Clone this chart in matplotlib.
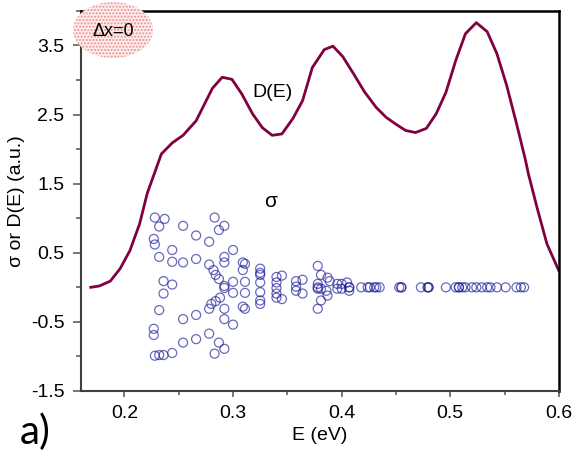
import matplotlib
matplotlib.use("Agg")
import matplotlib.pyplot as plt
from matplotlib.patches import Ellipse
from matplotlib.ticker import MultipleLocator

plt.rcParams['font.family'] = ['Liberation Sans', 'DejaVu Sans']

# Density of states D(E)
energy_dos = [0.169, 0.177, 0.187, 0.196, 0.205, 0.214, 0.221, 0.234, 0.244, 0.254,
              0.266, 0.281, 0.290, 0.299, 0.308, 0.318, 0.327, 0.336, 0.345, 0.355,
              0.364, 0.373, 0.384, 0.392, 0.401, 0.411, 0.421, 0.432, 0.441, 0.450,
              0.459, 0.468, 0.478, 0.487, 0.496, 0.505, 0.514, 0.524, 0.534, 0.543,
              0.552, 0.561, 0.569, 0.572, 0.580, 0.589, 0.600]
dos = [0.00, 0.02, 0.09, 0.27, 0.53, 0.92, 1.36, 1.93, 2.09, 2.20,
       2.41, 2.88, 3.04, 3.01, 2.80, 2.51, 2.31, 2.20, 2.22, 2.44,
       2.70, 3.18, 3.44, 3.49, 3.34, 3.09, 2.83, 2.60, 2.46, 2.36,
       2.27, 2.24, 2.30, 2.51, 2.82, 3.28, 3.67, 3.83, 3.70, 3.38,
       2.92, 2.37, 1.86, 1.64, 1.15, 0.63, 0.24]

# Conductivity eigen-spectrum sigma(E)
energy_sigma = [
    0.228, 0.237, 0.232, 0.254, 0.283, 0.292, 0.287, 0.266, 0.227, 0.228,
    0.278, 0.244, 0.300, 0.232, 0.244, 0.254, 0.266, 0.292, 0.292, 0.278,
    0.282, 0.284, 0.287, 0.309, 0.311, 0.309, 0.236, 0.244, 0.236, 0.300,
    0.300, 0.311, 0.311, 0.292, 0.292, 0.288, 0.284, 0.280, 0.278, 0.292,
    0.309, 0.311, 0.232, 0.254, 0.266, 0.292, 0.300, 0.227, 0.227, 0.278,
    0.254, 0.266, 0.287, 0.292, 0.228, 0.232, 0.236, 0.244, 0.283,
    0.325, 0.325, 0.325, 0.325, 0.325, 0.325, 0.325,
    0.340, 0.345, 0.340, 0.340, 0.340, 0.340, 0.345,
    0.358, 0.364, 0.358, 0.358, 0.364,
    0.378, 0.381, 0.387, 0.389, 0.378, 0.378, 0.378, 0.381, 0.386, 0.387,
    0.381, 0.378,
    0.396, 0.396, 0.400, 0.400, 0.405, 0.407, 0.407, 0.407,
    0.418, 0.424, 0.426, 0.430, 0.432, 0.435, 0.453, 0.455, 0.455, 0.473,
    0.479, 0.480, 0.480, 0.496, 0.505, 0.508, 0.508, 0.511, 0.514, 0.520,
    0.524, 0.529, 0.534, 0.537, 0.543, 0.551, 0.561, 0.565, 0.568]
sigma = [
    1.01, 0.99, 0.88, 0.89, 1.01, 0.89, 0.83, 0.75, 0.70, 0.62,
    0.66, 0.54, 0.54, 0.44, 0.37, 0.36, 0.41, 0.44, 0.36, 0.33,
    0.25, 0.18, 0.12, 0.36, 0.34, 0.25, 0.09, 0.04, -0.09, 0.08,
    -0.08, 0.08, -0.08, 0.02, -0.01, -0.15, -0.20, -0.24, -0.31, -0.31,
    -0.28, -0.31, -0.33, -0.46, -0.40, -0.46, -0.54, -0.60, -0.69, -0.67,
    -0.80, -0.75, -0.80, -0.89, -0.99, -0.98, -0.98, -0.95, -0.96,
    0.27, 0.21, 0.18, 0.07, -0.07, -0.19, -0.24,
    0.15, 0.17, 0.07, -0.01, -0.09, -0.15, -0.17,
    0.09, 0.11, 0.01, -0.05, -0.09,
    0.31, 0.18, 0.14, 0.09, 0.05, 0.00, -0.02, -0.02, -0.05, -0.12,
    -0.19, -0.31,
    0.05, -0.02, 0.05, -0.02, 0.07, 0.00, 0.00, -0.05,
    0.00, 0.00, 0.00, 0.00, 0.00, 0.00, 0.00, 0.00, 0.00, 0.00,
    0.00, 0.00, 0.00, 0.00, 0.00, 0.00, 0.00, 0.00, 0.00, 0.00,
    0.00, 0.00, 0.00, 0.00, 0.00, 0.00, 0.00, 0.00, 0.00]

x_ticks = [0.2, 0.3, 0.4, 0.5, 0.6]
y_ticks = [-1.5, -0.5, 0.5, 1.5, 2.5, 3.5]

fig = plt.figure(figsize=(5.72, 4.55), dpi=100)
ax = fig.add_axes([0.1416, 0.1407, 0.977 - 0.1416, 0.976 - 0.1407])

ax.plot(energy_dos, dos, color='#800040', lw=2.0, solid_joinstyle='round')
ax.scatter(energy_sigma, sigma, s=42, facecolors='none', edgecolors='#1a1a9a',
           linewidths=0.9, alpha=0.65, zorder=3)

ax.set_xlim(0.16, 0.6)
ax.set_ylim(-1.5, 4.0)
ax.set_xticks(x_ticks)
ax.set_yticks(y_ticks)
ax.set_xticklabels([f"{v:.1f}" for v in x_ticks])
ax.set_yticklabels([f"{v:.1f}" for v in y_ticks])
ax.xaxis.set_minor_locator(MultipleLocator(0.05))
ax.yaxis.set_minor_locator(MultipleLocator(0.5))
ax.tick_params(which='major', direction='out', length=6, width=1.2,
               color='#606060', labelsize=14, pad=6)
ax.tick_params(which='minor', direction='out', length=3.5, width=1.2,
               color='#606060')
ax.tick_params(axis='x', which='major', length=4)
ax.tick_params(axis='x', which='minor', length=3)

for side in ['left', 'bottom']:
    ax.spines[side].set_color('#404040')
    ax.spines[side].set_linewidth(1.5)
for side in ['top', 'right']:
    ax.spines[side].set_color('black')
    ax.spines[side].set_linewidth(1.8)

ax.set_xlabel('E (eV)', fontsize=14, labelpad=4)
ax.set_ylabel('σ or D(E) (a.u.)', fontsize=14, labelpad=4)

ax.text(0.318, 2.82, 'D(E)', fontsize=14, va='center')
ax.text(0.335, 1.24, 'σ', fontsize=15, ha='center', va='center')

# dotted pink badge behind the Δx label
badge = Ellipse((113 / 572, 1 - 30 / 455), 80 / 572, 56 / 455,
                transform=fig.transFigure, facecolor='#fdeeee',
                edgecolor='#ee9090', hatch='.....', lw=0, zorder=5)
fig.patches.append(badge)
fig.text(113 / 572, 1 - 32 / 455, 'Δx=0', fontsize=13, ha='center', va='center',
         zorder=6)

fig.text(35 / 572, 1 - 432 / 455, 'a)', fontsize=29, ha='center', va='center',
         family=['Lato', 'DejaVu Sans'])

fig.savefig('out.png', dpi=100)
